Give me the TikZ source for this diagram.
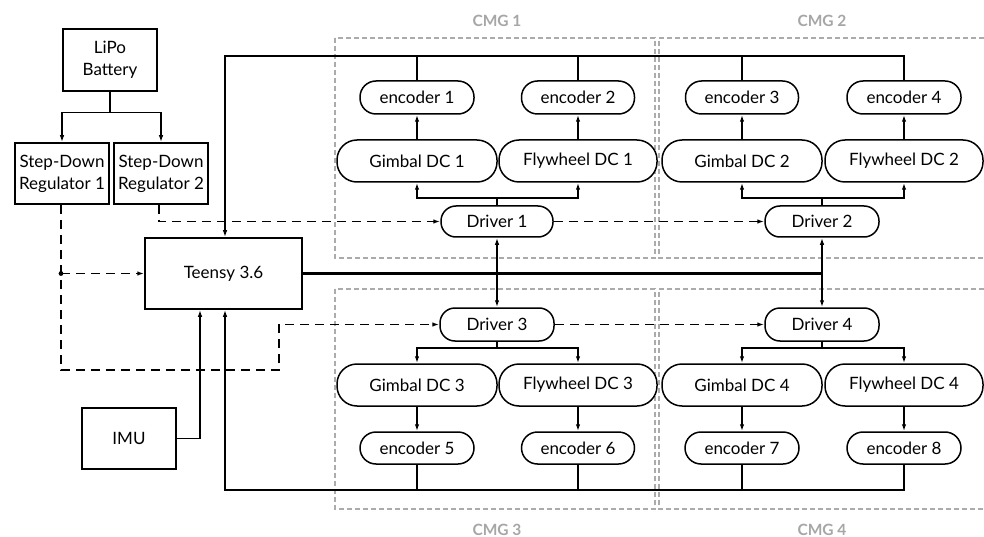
\documentclass[tikz,border=0pt]{standalone}
\usepackage{fontspec}
\setmainfont{Lato}
\usetikzlibrary{arrows.meta}
\begin{document}
\begin{tikzpicture}[x=1pt,y=-1pt,
  every node/.style={font=\fontsize{17}{22}\selectfont},
  box/.style={draw,line width=1.5pt,fill=white,align=center,inner sep=0pt},
  pill/.style={draw,line width=1.5pt,fill=white,align=center,inner sep=0pt,rounded corners=#1},
  ln/.style={line width=1.5pt},
  arr/.style={line width=1.5pt,-{Latex[length=7pt,width=4.5pt]}},
  dsh/.style={line width=1.6pt,dash pattern=on 9pt off 6pt},
  darr/.style={dsh,-{Latex[length=7pt,width=4.5pt]}},
  bus/.style={line width=3.8pt},
  cmg/.style={draw=black!33,line width=1.2pt,dash pattern=on 5pt off 3pt},
  cmglabel/.style={font=\fontsize{15.5}{18}\selectfont\bfseries,text=black!35}]
\useasboundingbox (0,0) rectangle (984,537);

% CMG group frames
\draw[cmg] (335,38) rectangle (655,258);
\draw[cmg] (335,289) rectangle (655,509);
\draw[cmg] (984,38) -- (659,38) -- (659,258) -- (984,258);
\draw[cmg] (984,289) -- (659,289) -- (659,509) -- (984,509);
\node[cmglabel] (l1) at (497,21) {CMG 1};
\node[cmglabel] (l2) at (822,21) {CMG 2};
\node[cmglabel] (l3) at (497,530) {CMG 3};
\node[cmglabel] (l4) at (822,530) {CMG 4};

% left blocks
\node[box,minimum width=94,minimum height=62] (lipo) at (110,60) {LiPo\\Battery};
\node[box,minimum width=94,minimum height=61] (reg1) at (62,173.5) {Step-Down\\Regulator 1};
\node[box,minimum width=94,minimum height=61] (reg2) at (161,173.5) {Step-Down\\Regulator 2};
\node[box,minimum width=157,minimum height=71] (teensy) at (223.5,273.5) {Teensy 3.6};
\node[box,minimum width=94,minimum height=61] (imu) at (129,438.5) {IMU};

% upper row
\node[pill=16pt,minimum width=114,minimum height=33] (enc1) at (417,97.5) {encoder 1};
\node[pill=16pt,minimum width=113,minimum height=33] (enc2) at (578,97.5) {encoder 2};
\node[pill=16pt,minimum width=113,minimum height=33] (enc3) at (742,97.5) {encoder 3};
\node[pill=16pt,minimum width=114,minimum height=33] (enc4) at (904,97.5) {encoder 4};
\node[pill=20pt,minimum width=160,minimum height=42] (gdc1) at (417,161) {Gimbal DC 1};
\node[pill=20pt,minimum width=158,minimum height=42] (fdc1) at (578,161) {Flywheel DC 1};
\node[pill=20pt,minimum width=160,minimum height=42] (gdc2) at (742,161) {Gimbal DC 2};
\node[pill=20pt,minimum width=158,minimum height=42] (fdc2) at (904,161) {Flywheel DC 2};
\node[pill=15pt,minimum width=112,minimum height=31] (drv1) at (497,221.5) {Driver 1};
\node[pill=15pt,minimum width=114,minimum height=31] (drv2) at (822,221.5) {Driver 2};

% lower row
\node[pill=15pt,minimum width=114,minimum height=33] (drv3) at (497,324.5) {Driver 3};
\node[pill=15pt,minimum width=114,minimum height=33] (drv4) at (822,324.5) {Driver 4};
\node[pill=20pt,minimum width=160,minimum height=42] (gdc3) at (417,385) {Gimbal DC 3};
\node[pill=20pt,minimum width=158,minimum height=42] (fdc3) at (578,385) {Flywheel DC 3};
\node[pill=20pt,minimum width=160,minimum height=42] (gdc4) at (742,385) {Gimbal DC 4};
\node[pill=20pt,minimum width=158,minimum height=42] (fdc4) at (904,385) {Flywheel DC 4};
\node[pill=16pt,minimum width=114,minimum height=32] (enc5) at (417,448) {encoder 5};
\node[pill=16pt,minimum width=113,minimum height=32] (enc6) at (578,448) {encoder 6};
\node[pill=16pt,minimum width=114,minimum height=32] (enc7) at (742,448) {encoder 7};
\node[pill=16pt,minimum width=114,minimum height=32] (enc8) at (904,448) {encoder 8};

% battery to regulators
\draw[ln] (lipo.south) -- ++(0,21) coordinate (bj);
\draw[arr] (bj) -| (reg1.north);
\draw[arr] (bj) -| (reg2.north);

% power (dashed)
\coordinate (r2x) at (159,0);
\draw[darr] (reg2.south -| r2x) |- (drv1.west);
\draw[darr] (drv1.east) -- (drv2.west);
\coordinate (r1x) at (61,0);
\coordinate (pc) at (279,370);
\draw[darr] (reg1.south -| r1x) -- (r1x |- pc) -- (pc) |- (drv3.west);
\draw[darr] (drv3.east) -- (drv4.west);
\coordinate (dot) at (r1x |- teensy.west);
\fill (dot) circle (2.4pt);
\draw[darr] (dot) -- (teensy.west);

% encoder feedback, top
\coordinate (tl) at (225,56);
\draw[arr] (enc4.north) |- (tl) -- (tl |- teensy.north);
\draw[ln] (enc1.north) -- (enc1.north |- tl);
\draw[ln] (enc2.north) -- (enc2.north |- tl);
\draw[ln] (enc3.north) -- (enc3.north |- tl);

% encoder feedback, bottom
\coordinate (bl) at (225,490);
\draw[arr] (enc8.south) |- (bl) -- (bl |- teensy.south);
\draw[ln] (enc5.south) -- (enc5.south |- bl);
\draw[ln] (enc6.south) -- (enc6.south |- bl);
\draw[ln] (enc7.south) -- (enc7.south |- bl);

% IMU
\coordinate (imux) at (200,0);
\draw[arr] (imu.east) -| (teensy.south -| imux);

% bus
\coordinate (busA) at (497,273.5);
\coordinate (busB) at (822,273.5);
\draw[bus] (teensy.east) -- (busB);
\draw[arr] (busA) -- (busA |- drv1.south);
\draw[arr] (busA) -- (busA |- drv3.north);
\draw[arr] (busB) -- (busB |- drv2.south);
\draw[arr] (busB) -- (busB |- drv4.north);

% drivers to motors
\draw[ln] (drv1.north) -- ++(0,-7) coordinate (j1);
\draw[arr] (j1) -| (gdc1.south);
\draw[arr] (j1) -| (fdc1.south);
\draw[ln] (drv2.north) -- ++(0,-7) coordinate (j2);
\draw[arr] (j2) -| (gdc2.south);
\draw[arr] (j2) -| (fdc2.south);
\draw[ln] (drv3.south) -- ++(0,6) coordinate (j3);
\draw[arr] (j3) -| (gdc3.north);
\draw[arr] (j3) -| (fdc3.north);
\draw[ln] (drv4.south) -- ++(0,6) coordinate (j4);
\draw[arr] (j4) -| (gdc4.north);
\draw[arr] (j4) -| (fdc4.north);

% motors to encoders
\draw[arr] (gdc1.north) -- (enc1.south);
\draw[arr] (fdc1.north) -- (enc2.south);
\draw[arr] (gdc2.north) -- (enc3.south);
\draw[arr] (fdc2.north) -- (enc4.south);
\draw[arr] (gdc3.south) -- (enc5.north);
\draw[arr] (fdc3.south) -- (enc6.north);
\draw[arr] (gdc4.south) -- (enc7.north);
\draw[arr] (fdc4.south) -- (enc8.north);
\end{tikzpicture}
\end{document}
